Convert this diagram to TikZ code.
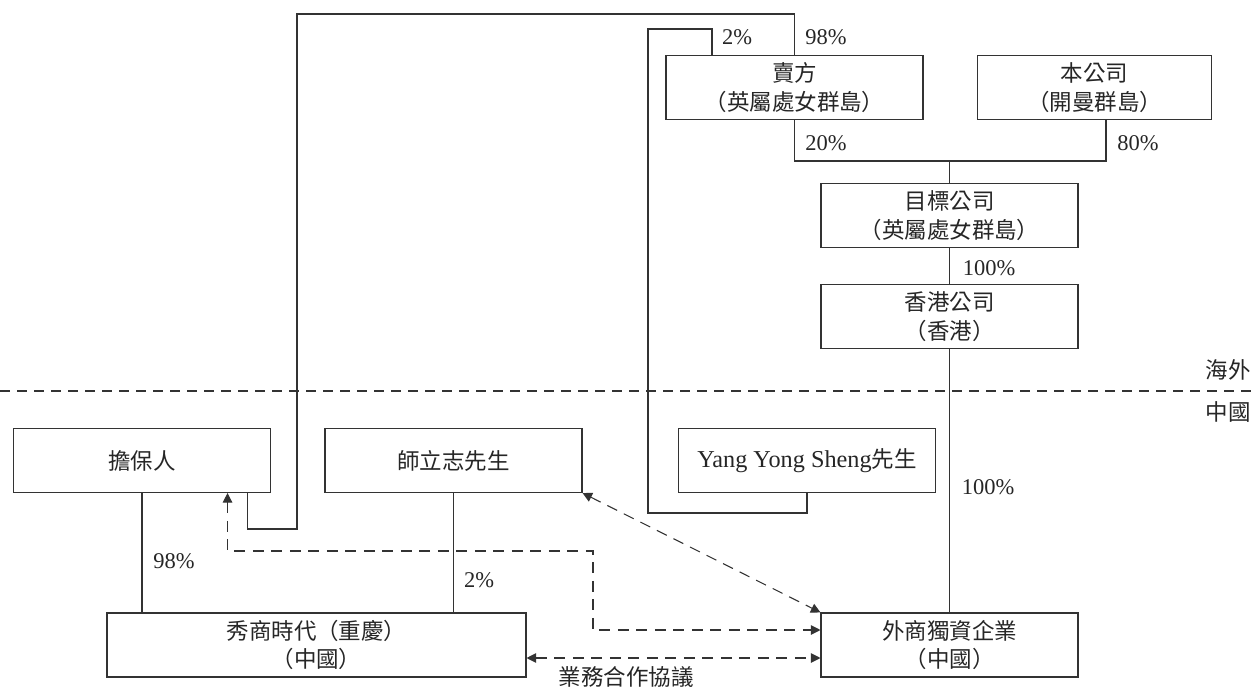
\documentclass[tikz,border=0pt]{standalone}
\usepackage{fontspec}
\setmainfont{Liberation Serif}
\newfontfamily\cjk{Noto Sans CJK TC}
\usetikzlibrary{arrows.meta}
\begin{document}
\begin{tikzpicture}
		[	x=0.2mm,y=-0.2mm,line width=0.6pt,draw=black!80,
		box/.style={rectangle,draw=black!80,minimum width=51.4mm,minimum height=12.8mm,align=center,font=\fontsize{12.8}{16.2}\selectfont\cjk,text=black!85},
		pct/.style={draw=none,fill=none,anchor=center,font=\fontsize{12.8}{14}\selectfont,text=black!85},
		zone/.style={draw=none,fill=none,anchor=east,inner sep=1pt,font=\fontsize{12.8}{14}\selectfont\cjk,text=black!85},
		dashline/.style={dash pattern=on 2.2mm off 1.5mm,{Triangle[length=1.9mm,width=1.9mm]}-{Triangle[length=1.9mm,width=1.9mm]}}
		]
		\useasboundingbox (0,0) rectangle (1253,691);
		% boxes
		\node[box] (seller) at (794.5,87.5){賣方\\（英屬處女群島）};
		\node[box,minimum width=46.8mm] (company) at (1094.5,87.5){本公司\\（開曼群島）};
		\node[box] (target) at (949.5,215.5){目標公司\\（英屬處女群島）};
		\node[box] (hk) at (949.5,316.5){香港公司\\（香港）};
		\node[box] (guarantor) at (142,460.5){擔保人};
		\node[box] (shi) at (453.5,460.5){師立志先生};
		\node[box,font=\fontsize{13.8}{16}\selectfont] (yang) at (807,460.5){Yang Yong Sheng{\fontsize{12.8}{16}\selectfont\cjk 先生}};
		\node[box,minimum width=83.8mm] (xiushang) at (316.5,645){秀商時代（重慶）\\（中國）};
		\node[box] (wfoe) at (949.5,645){外商獨資企業\\（中國）};

		% overseas / PRC
		\draw[dash pattern=on 2mm off 1.4mm] (0,391) -- (1253,391);
		\node[zone] (overseas) at (1253,370){海外};
		\node[zone] (prc) at (1253,412){中國};

		% shareholdings
		\coordinate (glow) at (297,529);
		\coordinate (ghigh) at (297,14);
		\draw ([xshift=-4.7mm]guarantor.south east) |- (glow) -- (ghigh) -| (seller.north);
		\coordinate (ylow) at (648,513);
		\coordinate (yhigh) at (648,29);
		\draw (yang.south) |- (ylow) -- (yhigh) -| ([xshift=-16.5mm]seller.north);
		\node[pct] (p98a) at (826,37){98\%};
		\node[pct] (p2a) at (737,37){2\%};

		\coordinate (jn) at (949.5,161);
		\draw (seller.south) |- (jn) -| ([xshift=2.3mm]company.south);
		\draw (jn) -- (target.north);
		\node[pct] (p20) at (826,143){20\%};
		\node[pct] (p80) at (1138,143){80\%};

		\draw (target) -- (hk);
		\node[pct] (p100a) at (989,268){100\%};
		\draw (hk) -- (wfoe);
		\node[pct] (p100b) at (988,487){100\%};

		\draw (guarantor.south) -- (guarantor.south |- xiushang.north);
		\node[pct] (p98b) at (174,561){98\%};
		\draw (shi.south) -- (shi.south |- xiushang.north);
		\node[pct] (p2b) at (479,580){2\%};

		% agreements
		\coordinate (dbend) at (593,551);
		\draw[dashline] ([xshift=-8.7mm]guarantor.south east) |- (dbend) |- ([yshift=3mm]wfoe.west);
		\draw[dashline] (shi.south east) -- (wfoe.north west);
		\draw[dashline] ([yshift=-2.6mm]xiushang.east) -- node[below,pos=0.34,font=\fontsize{12.8}{14}\selectfont\cjk,text=black!85,inner sep=4.5pt] (coop){業務合作協議} ([yshift=-2.6mm]wfoe.west);
	\end{tikzpicture}
\end{document}
